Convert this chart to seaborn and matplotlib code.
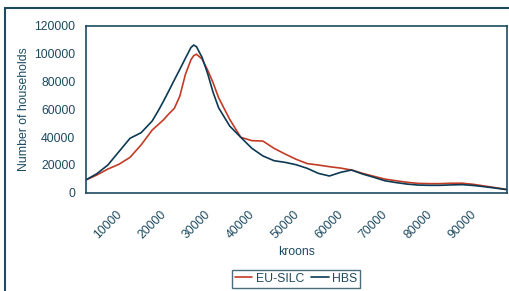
import pandas as pd
import matplotlib.pyplot as plt
import seaborn as sns
from matplotlib.patches import Rectangle

# income (kroons); finer steps around the peak
kroons = [5000, 7500, 10000, 12500, 15000, 17500,
          20000, 21250, 22500, 23750, 25000, 26250, 27500, 28750, 29375,
          30000, 31250, 32500, 33750, 35000,
          37500, 40000, 42500, 45000, 47500, 50000, 52500,
          55000, 57500, 60000, 62500, 65000, 67500, 70000, 72500, 75000, 77500,
          80000, 82500, 85000, 87500, 90000, 92500, 95000, 97500, 100000]

eu_silc = [9100, 12700, 17000, 20400, 25400, 34300,
           45000, 48600, 52200, 56600, 60600, 69500, 85000, 95500, 98500,
           99500, 96100, 88200, 79000, 68200,
           52700, 39800, 37400, 37100, 31900, 27800, 24000,
           20900, 19900, 18700, 17700, 16300, 13900, 11800, 9800, 8600, 7500,
           6700, 6500, 6500, 6800, 6800, 6000, 4800, 3600, 2400]

hbs = [9100, 13600, 19900, 29500, 39100, 43100,
       51500, 58200, 65400, 73100, 81000, 88700, 96600, 104300, 106100,
       104900, 97300, 85800, 72100, 61000,
       47900, 39800, 31900, 26400, 23000, 21800, 20100,
       17500, 13900, 12000, 14600, 16300, 13400, 11100, 8600, 7300, 6200,
       5500, 5300, 5300, 5600, 5800, 5200, 4300, 3300, 2200]

ticks = list(range(5000, 100001, 5000))
labelled = [10000, 20000, 30000, 40000, 50000, 60000, 70000, 80000, 90000]

df = pd.concat([
    pd.DataFrame({'kroons': kroons, 'households': eu_silc, 'source': 'EU-SILC'}),
    pd.DataFrame({'kroons': kroons, 'households': hbs, 'source': 'HBS'}),
])

ink = '#1d4a60'
sns.set_style("white")
plt.rcParams['font.family'] = ['Liberation Sans', 'DejaVu Sans']
plt.rcParams['font.size'] = 8.8
plt.rcParams['text.color'] = ink
plt.rcParams['axes.labelcolor'] = ink
plt.rcParams['xtick.color'] = ink
plt.rcParams['ytick.color'] = ink

fig = plt.figure(figsize=(5.09, 2.91), dpi=100)
ax = fig.add_axes([0.1684, 0.3378, 0.8269, 0.5739])

sns.lineplot(data=df, x='kroons', y='households', hue='source',
             palette={'EU-SILC': '#c23b25', 'HBS': '#0c3954'},
             linewidth=1.2, ax=ax)
for line in ax.lines:
    line.set_solid_joinstyle('round')

ax.set_xlim(5000, 100000)
ax.set_ylim(0, 120000)
ax.set_yticks(range(0, 120001, 20000))
ax.set_xticks(ticks)
ax.set_xticklabels([str(t) if t in labelled else '' for t in ticks],
                   rotation=45, ha='center')
ax.tick_params(axis='x', direction='inout', length=5, width=1, pad=9)
ax.tick_params(axis='y', direction='out', length=3, width=1, pad=4.5)
for s in ax.spines.values():
    s.set_color(ink)
    s.set_linewidth(1.2)

ax.set_xlabel('kroons', labelpad=3)
ax.set_ylabel('Number of households', labelpad=3)

leg = ax.legend(loc='upper center', bbox_to_anchor=(0.5, -0.46), ncol=2,
                frameon=True, fancybox=False, handlelength=1.4,
                handletextpad=0.3, columnspacing=0.6, borderpad=0.25,
                borderaxespad=0, fontsize=8.8)
leg.get_frame().set_edgecolor(ink)
leg.get_frame().set_linewidth(1.0)

fig.patches.append(Rectangle((5 / 509, -0.1), 2, 1.1 - 8 / 291,
                             transform=fig.transFigure, fill=False,
                             edgecolor=ink, linewidth=1.5))

plt.savefig('out.png', dpi=100)
plt.close()
